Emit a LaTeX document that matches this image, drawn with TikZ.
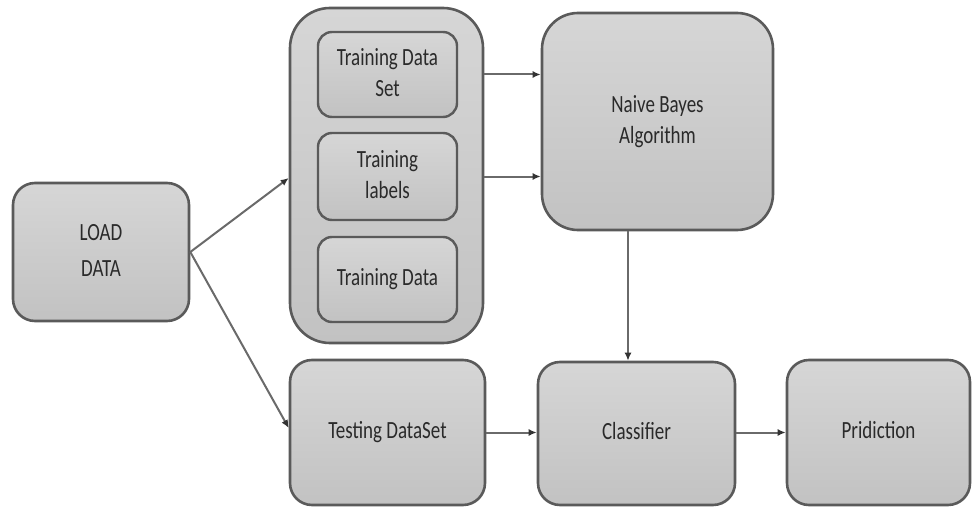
\documentclass[tikz,border=0pt]{standalone}
\usepackage{fontspec}
\setmainfont{Carlito}
\usetikzlibrary{arrows.meta,calc}
\definecolor{boxtop}{HTML}{D6D6D6}
\definecolor{boxbot}{HTML}{C2C2C2}
\definecolor{boxline}{HTML}{5A5A5A}
\definecolor{arrline}{HTML}{6A6A6A}
\definecolor{txt}{HTML}{2A2A2A}
\newcommand{\lbl}[1]{\scalebox{1}[1.3]{\begin{tabular}{@{}c@{}}#1\end{tabular}}}
\begin{document}
\begin{tikzpicture}[x=1pt,y=-1pt,
  box/.style={draw=boxline, line width=2.6pt, top color=boxtop, bottom color=boxbot,
    rounded corners=22pt, text=txt, font=\fontsize{19}{24}\selectfont, align=center,
    inner sep=0pt},
  inbox/.style={box, line width=2.4pt, rounded corners=14pt},
  conn/.style={draw=arrline, line width=2pt, -{Latex[length=8pt,width=7pt,fill=black!80,color=black!80]}}]
\useasboundingbox[fill=white] (0,0) rectangle (972,508);
\node[box, minimum width=176pt, minimum height=138pt] (load) at (101,252) {\lbl{LOAD\\[4pt]DATA}};
\node[box, rounded corners=40pt, minimum width=193pt, minimum height=335pt] (cont) at (386.5,175.5) {};
\node[inbox, minimum width=139pt, minimum height=85pt] (in1) at (387.5,74.5) {\lbl{Training Data\\Set}};
\node[inbox, minimum width=139pt, minimum height=87pt] (in2) at (387.5,176.5) {\lbl{Training\\labels}};
\node[inbox, minimum width=139pt, minimum height=85pt] (in3) at (387.5,279.5) {\lbl{Training Data}};
\node[box, rounded corners=36pt, minimum width=231pt, minimum height=217pt] (nb) at (657.5,121.5) {\lbl{Naive Bayes\\Algorithm}};
\node[box, minimum width=195pt, minimum height=145pt] (test) at (387.5,432.5) {\lbl{Testing DataSet}};
\node[box, minimum width=197pt, minimum height=143pt] (cls) at (636.5,433.5) {\lbl{Classifier}};
\node[box, minimum width=183pt, minimum height=145pt] (pred) at (878.5,432.5) {\lbl{Pridiction}};
\coordinate (vx) at (628,0);
\draw[conn] (load.east) -- (cont.west |- 0,178);
\draw[conn] (load.east) -- (test.west |- 0,428);
\draw[conn] (cont.east |- in1) -- (nb.west |- in1);
\draw[conn] (cont.east |- in2) -- (nb.west |- in2);
\draw[conn] (nb.south -| vx) -- (cls.north -| vx);
\draw[conn] (test.east) -- (cls.west |- test.east);
\draw[conn] (cls.east |- test.east) -- (pred.west |- test.east);
\end{tikzpicture}
\end{document}
